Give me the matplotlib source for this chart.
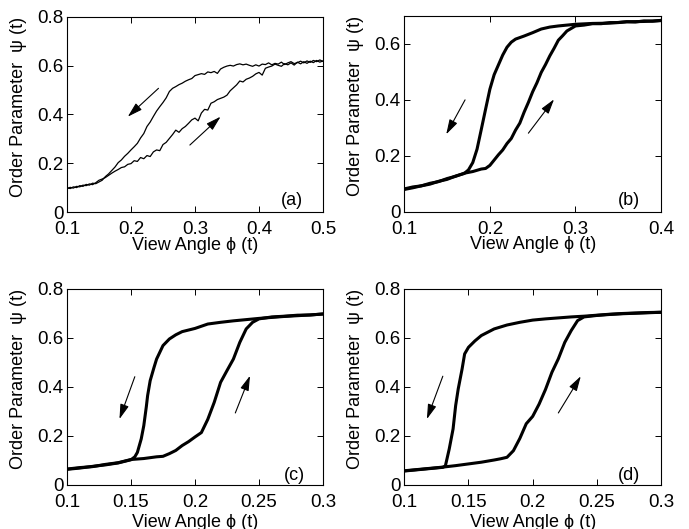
import matplotlib
matplotlib.use("Agg")
import matplotlib.pyplot as plt

plt.rcParams['font.family'] = ['Liberation Sans', 'DejaVu Sans']
plt.rcParams['font.size'] = 13

# ---- panel (a): phi 0.1 - 0.5 ----
a_x = [0.100, 0.105, 0.110, 0.115, 0.120, 0.125, 0.130, 0.135, 0.140, 0.145,
       0.150, 0.155, 0.160, 0.165, 0.170, 0.175, 0.180, 0.185, 0.190, 0.195,
       0.200, 0.205, 0.210, 0.215, 0.220, 0.225, 0.230, 0.235, 0.240, 0.245,
       0.250, 0.255, 0.260, 0.265, 0.270, 0.275, 0.280, 0.285, 0.290, 0.295,
       0.300, 0.305, 0.310, 0.315, 0.320, 0.325, 0.330, 0.335, 0.340, 0.345,
       0.350, 0.355, 0.360, 0.365, 0.370, 0.375, 0.380, 0.385, 0.390, 0.395,
       0.400, 0.405, 0.410, 0.415, 0.420, 0.425, 0.430, 0.435, 0.440, 0.445,
       0.450, 0.455, 0.460, 0.465, 0.470, 0.475, 0.480, 0.485, 0.490, 0.495,
       0.500]
a_up = [0.096, 0.102, 0.099, 0.106, 0.104, 0.111, 0.109, 0.116, 0.113, 0.121,
        0.131, 0.136, 0.142, 0.151, 0.160, 0.168, 0.175, 0.183, 0.186, 0.196,
        0.199, 0.211, 0.208, 0.224, 0.219, 0.232, 0.228, 0.247, 0.255, 0.252,
        0.277, 0.286, 0.302, 0.318, 0.336, 0.327, 0.342, 0.351, 0.364, 0.378,
        0.385, 0.374, 0.406, 0.421, 0.418, 0.446, 0.452, 0.461, 0.466, 0.471,
        0.479, 0.497, 0.509, 0.521, 0.537, 0.533, 0.544, 0.549, 0.556, 0.566,
        0.572, 0.561, 0.589, 0.594, 0.598, 0.606, 0.601, 0.597, 0.608, 0.603,
        0.611, 0.602, 0.614, 0.607, 0.616, 0.609, 0.618, 0.612, 0.621, 0.614,
        0.619]
a_down = [0.101, 0.097, 0.104, 0.101, 0.109, 0.106, 0.114, 0.111, 0.119, 0.117,
          0.124, 0.131, 0.146, 0.157, 0.171, 0.185, 0.203, 0.214, 0.229, 0.241,
          0.255, 0.268, 0.282, 0.304, 0.322, 0.351, 0.369, 0.392, 0.414, 0.432,
          0.449, 0.468, 0.494, 0.507, 0.514, 0.522, 0.528, 0.536, 0.542, 0.547,
          0.559, 0.563, 0.567, 0.564, 0.574, 0.571, 0.576, 0.568, 0.586, 0.593,
          0.598, 0.601, 0.598, 0.604, 0.607, 0.603, 0.606, 0.601, 0.597, 0.603,
          0.598, 0.606, 0.604, 0.611, 0.603, 0.609, 0.606, 0.614, 0.604, 0.611,
          0.616, 0.608, 0.612, 0.618, 0.611, 0.619, 0.613, 0.621, 0.616, 0.623,
          0.617]

# ---- panel (b): phi 0.1 - 0.4 ----
b_up_x = [0.100, 0.110, 0.120, 0.130, 0.140, 0.150, 0.160, 0.170, 0.180, 0.190,
          0.195, 0.200, 0.205, 0.210, 0.215, 0.220, 0.225, 0.230, 0.235, 0.240,
          0.245, 0.250, 0.255, 0.260, 0.265, 0.270, 0.275, 0.280, 0.285, 0.290,
          0.295, 0.300, 0.310, 0.320, 0.330, 0.340, 0.350, 0.360, 0.370, 0.380,
          0.390, 0.400]
b_up_y = [0.082, 0.089, 0.093, 0.102, 0.108, 0.119, 0.127, 0.138, 0.144, 0.153,
          0.155, 0.166, 0.185, 0.204, 0.221, 0.244, 0.262, 0.292, 0.317, 0.356,
          0.391, 0.429, 0.461, 0.498, 0.526, 0.557, 0.584, 0.613, 0.629, 0.646,
          0.655, 0.664, 0.667, 0.672, 0.672, 0.676, 0.676, 0.679, 0.678, 0.682,
          0.681, 0.684]
b_down_x = [0.100, 0.110, 0.120, 0.130, 0.140, 0.150, 0.160, 0.170, 0.175, 0.180,
            0.185, 0.190, 0.195, 0.200, 0.205, 0.210, 0.215, 0.220, 0.225, 0.230,
            0.240, 0.250, 0.260, 0.270, 0.280, 0.290, 0.300, 0.320, 0.340, 0.360,
            0.380, 0.400]
b_down_y = [0.080, 0.086, 0.093, 0.099, 0.109, 0.116, 0.128, 0.137, 0.150, 0.176,
            0.224, 0.295, 0.367, 0.438, 0.490, 0.525, 0.560, 0.588, 0.606, 0.617,
            0.628, 0.640, 0.653, 0.660, 0.664, 0.667, 0.670, 0.673, 0.674, 0.679,
            0.680, 0.683]

# ---- panel (c): phi 0.1 - 0.3 ----
c_up_x = [0.100, 0.110, 0.120, 0.130, 0.140, 0.150, 0.160, 0.170, 0.175, 0.180,
          0.185, 0.190, 0.195, 0.200, 0.205, 0.210, 0.215, 0.220, 0.225, 0.230,
          0.235, 0.240, 0.245, 0.250, 0.260, 0.270, 0.280, 0.290, 0.300]
c_up_y = [0.065, 0.071, 0.075, 0.084, 0.091, 0.104, 0.108, 0.115, 0.117, 0.128,
          0.141, 0.161, 0.177, 0.196, 0.214, 0.268, 0.337, 0.419, 0.467, 0.514,
          0.582, 0.637, 0.664, 0.678, 0.686, 0.689, 0.693, 0.694, 0.698]
c_down_x = [0.100, 0.110, 0.120, 0.130, 0.140, 0.150, 0.153, 0.155, 0.158, 0.160,
            0.162, 0.163, 0.165, 0.168, 0.170, 0.175, 0.180, 0.185, 0.190, 0.200,
            0.210, 0.220, 0.230, 0.240, 0.250, 0.260, 0.270, 0.280, 0.290, 0.300]
c_down_y = [0.064, 0.069, 0.076, 0.082, 0.090, 0.103, 0.115, 0.133, 0.188, 0.242,
            0.320, 0.365, 0.426, 0.480, 0.514, 0.569, 0.596, 0.613, 0.626, 0.639,
            0.657, 0.664, 0.670, 0.675, 0.680, 0.684, 0.688, 0.691, 0.694, 0.698]

# ---- panel (d): phi 0.1 - 0.3 ----
d_up_x = [0.100, 0.110, 0.120, 0.130, 0.140, 0.150, 0.160, 0.170, 0.175, 0.180,
          0.185, 0.190, 0.195, 0.200, 0.205, 0.210, 0.215, 0.220, 0.225, 0.230,
          0.235, 0.240, 0.250, 0.260, 0.270, 0.280, 0.290, 0.300]
d_up_y = [0.058, 0.063, 0.068, 0.073, 0.079, 0.086, 0.093, 0.102, 0.107, 0.113,
          0.140, 0.190, 0.250, 0.280, 0.330, 0.390, 0.460, 0.515, 0.582, 0.630,
          0.671, 0.686, 0.692, 0.696, 0.699, 0.701, 0.703, 0.705]
d_down_x = [0.100, 0.110, 0.120, 0.130, 0.132, 0.135, 0.138, 0.140, 0.142, 0.145,
            0.147, 0.150, 0.155, 0.160, 0.170, 0.180, 0.190, 0.200, 0.210, 0.220,
            0.230, 0.240, 0.250, 0.260, 0.270, 0.280, 0.290, 0.300]
d_down_y = [0.057, 0.062, 0.067, 0.072, 0.078, 0.147, 0.229, 0.324, 0.392, 0.473,
            0.535, 0.562, 0.588, 0.610, 0.637, 0.653, 0.664, 0.673, 0.678, 0.682,
            0.686, 0.689, 0.693, 0.697, 0.700, 0.702, 0.704, 0.705]

# arrows: (tail, head) for the down sweep and the up sweep
a_arrows = [((0.243, 0.507), (0.195, 0.391)), ((0.292, 0.275), (0.340, 0.391))]
b_arrows = [((0.171, 0.400), (0.149, 0.277)), ((0.245, 0.281), (0.275, 0.402))]
c_arrows = [((0.153, 0.442), (0.141, 0.269)), ((0.2315, 0.294), (0.243, 0.446))]
d_arrows = [((0.130, 0.444), (0.1176, 0.269)), ((0.220, 0.294), (0.2375, 0.444))]

panels = [
    dict(pos=[0.0972, 0.5987, 0.3716, 0.3698], curves=[(a_x, a_up), (a_x, a_down)],
         lw=0.9, xlim=(0.1, 0.5), xticks=[0.1, 0.2, 0.3, 0.4, 0.5],
         xlabels=['0.1', '0.2', '0.3', '0.4', '0.5'],
         ylim=(0, 0.8), yticks=[0, 0.2, 0.4, 0.6, 0.8],
         ylabels=['0', '0.2', '0.4', '0.6', '0.8'],
         arrows=a_arrows, tag='(a)', tagpos=(0.88, 0.06), xlab_y=-0.169),
    dict(pos=[0.5868, 0.5995, 0.3726, 0.3705],
         curves=[(b_up_x, b_up_y), (b_down_x, b_down_y)],
         lw=2.2, xlim=(0.1, 0.4), xticks=[0.1, 0.2, 0.3, 0.4],
         xlabels=['0.1', '0.2', '0.3', '0.4'],
         ylim=(0, 0.7), yticks=[0, 0.2, 0.4, 0.6],
         ylabels=['0', '0.2', '0.4', '0.6'],
         arrows=b_arrows, tag='(b)', tagpos=(0.875, 0.06), xlab_y=-0.169),
    dict(pos=[0.0972, 0.0832, 0.3716, 0.3705],
         curves=[(c_up_x, c_up_y), (c_down_x, c_down_y)],
         lw=2.2, xlim=(0.1, 0.3), xticks=[0.1, 0.15, 0.2, 0.25, 0.3],
         xlabels=['0.1', '0.15', '0.2', '0.25', '0.3'],
         ylim=(0, 0.8), yticks=[0, 0.2, 0.4, 0.6, 0.8],
         ylabels=['0', '0.2', '0.4', '0.6', '0.8'],
         arrows=c_arrows, tag='(c)', tagpos=(0.887, 0.05), xlab_y=-0.189),
    dict(pos=[0.5868, 0.0832, 0.3726, 0.3705],
         curves=[(d_up_x, d_up_y), (d_down_x, d_down_y)],
         lw=2.2, xlim=(0.1, 0.3), xticks=[0.1, 0.15, 0.2, 0.25, 0.3],
         xlabels=['0.1', '0.15', '0.2', '0.25', '0.3'],
         ylim=(0, 0.8), yticks=[0, 0.2, 0.4, 0.6, 0.8],
         ylabels=['0', '0.2', '0.4', '0.6', '0.8'],
         arrows=d_arrows, tag='(d)', tagpos=(0.875, 0.05), xlab_y=-0.189),
]

fig = plt.figure(figsize=(6.89, 5.29), dpi=100)

for p in panels:
    ax = fig.add_axes(p['pos'])
    for xs, ys in p['curves']:
        ax.plot(xs, ys, color='k', linewidth=p['lw'])
    for tail, head in p['arrows']:
        ax.annotate('', xy=head, xytext=tail,
                    arrowprops=dict(arrowstyle='-|>,head_length=0.75,head_width=0.22',
                                    mutation_scale=12, lw=0.8, color='k',
                                    shrinkA=0, shrinkB=0))
    ax.set_xlim(*p['xlim'])
    ax.set_ylim(*p['ylim'])
    ax.set_xticks(p['xticks'], p['xlabels'])
    ax.set_yticks(p['yticks'], p['ylabels'])
    ax.tick_params(direction='in', top=True, right=True, length=4, width=0.7,
                   labelsize=13.5)
    ax.tick_params(axis='x', pad=6.5)
    ax.tick_params(axis='y', pad=2.5)
    for s in ax.spines.values():
        s.set_linewidth(0.8)
    ax.set_xlabel('View Angle ϕ (t)', fontsize=13)
    ax.xaxis.set_label_coords(0.5, p['xlab_y'])
    ax.xaxis.label.set_va('center')
    ax.set_ylabel('Order Parameter  ψ (t)', fontsize=13)
    ax.yaxis.label.set_va('center')
    ax.yaxis.set_label_coords(-48.4 / (p['pos'][2] * 689), 0.54)
    ax.text(p['tagpos'][0], p['tagpos'][1], p['tag'], transform=ax.transAxes,
            ha='center', va='center', fontsize=13)

fig.savefig('out.png', dpi=100)
